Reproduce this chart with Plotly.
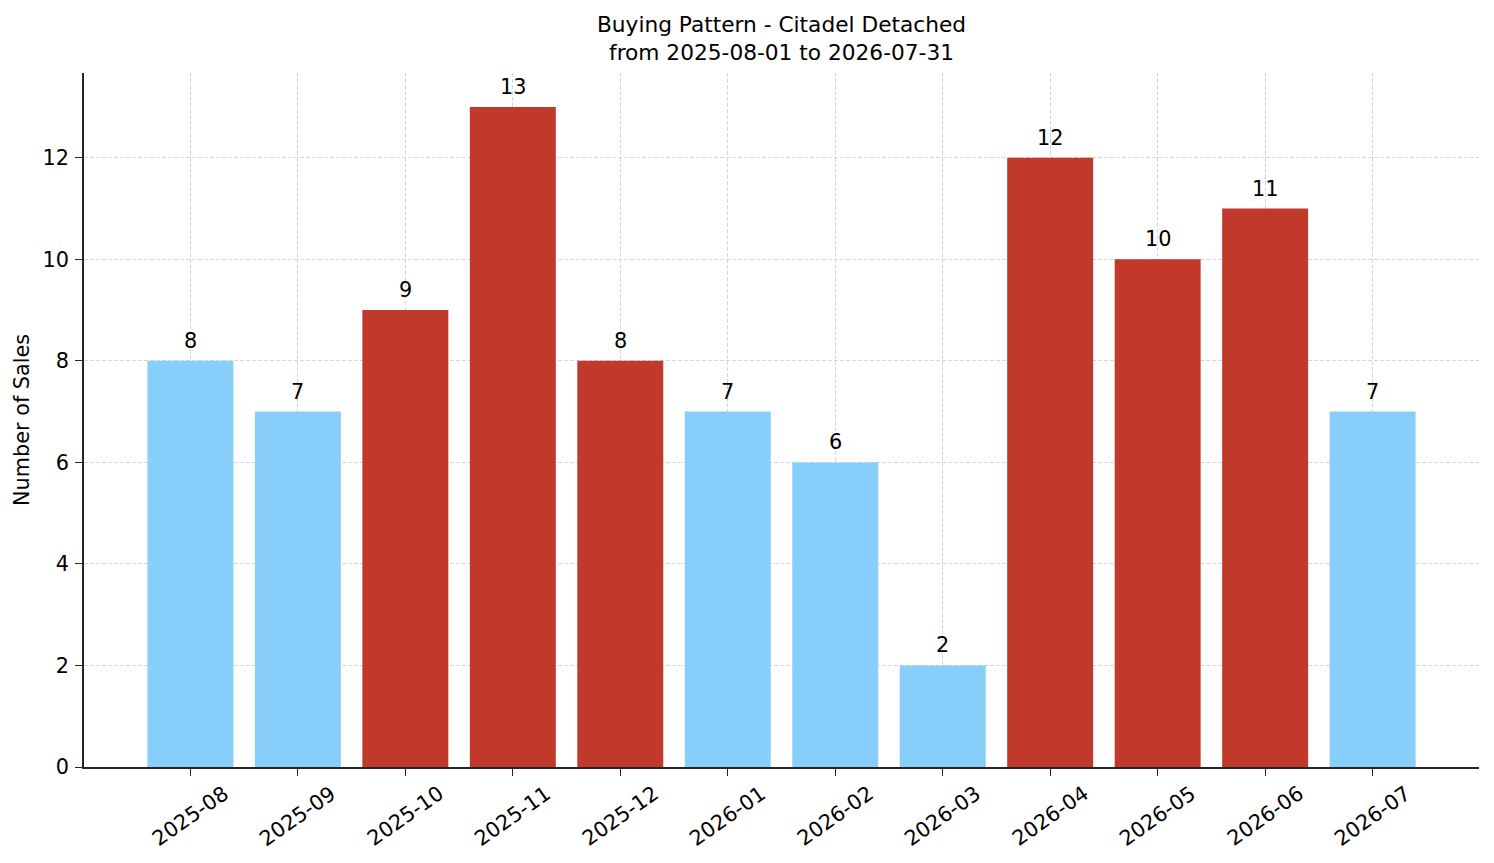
import plotly.graph_objects as go

# monthly sales counts
months = ["2025-08", "2025-09", "2025-10", "2025-11", "2025-12", "2026-01",
          "2026-02", "2026-03", "2026-04", "2026-05", "2026-06", "2026-07"]
sales = [8, 7, 9, 13, 8, 7, 6, 2, 12, 10, 11, 7]
hot = [False, False, True, True, True, False, False, False, True, True, True, False]

BLUE = "#87CEFA"
RED = "#C0392B"
FONT = "DejaVu Sans"
FS = 20.8

colors = [RED if h else BLUE for h in hot]
xs = list(range(len(months)))

fig = go.Figure()
fig.add_trace(go.Bar(
    x=xs, y=sales,
    marker=dict(color=colors, line=dict(width=0)),
    width=0.8, showlegend=False, hoverinfo="x+y",
))

# value labels above bars
for i, v in zip(xs, sales):
    fig.add_annotation(x=i, y=v, text=str(v), showarrow=False,
                       yanchor="bottom", yshift=6,
                       font=dict(family=FONT, size=FS, color="black"))

# rotated month labels, centred under each tick
for i, m in zip(xs, months):
    fig.add_annotation(x=i, y=0, yref="paper", text=m, showarrow=False,
                       textangle=-35, xanchor="center", yanchor="middle",
                       yshift=-49,
                       font=dict(family=FONT, size=FS, color="black"))

# y axis title
fig.add_annotation(x=0, xref="paper", y=0.5, yref="paper", text="Number of Sales",
                   showarrow=False, textangle=-90, xanchor="center", yanchor="middle",
                   xshift=-62, font=dict(family=FONT, size=FS, color="black"))

fig.update_layout(
    width=1486, height=855,
    margin=dict(l=76, r=15, t=65, b=96, autoexpand=False),
    paper_bgcolor="white", plot_bgcolor="white",
    font=dict(family=FONT, size=FS, color="black"),
    title=dict(text="Buying Pattern - Citadel Detached<br>from 2025-08-01 to 2026-07-31",
               x=(76 + 1471) / 2 / 1486, xanchor="center",
               y=1 - 24 / 855, yanchor="top",
               font=dict(family=FONT, size=21.7)),
)
fig.update_xaxes(
    range=[-0.99, 11.99], automargin=False,
    tickmode="array", tickvals=xs, showticklabels=False,
    ticks="outside", ticklen=7, tickwidth=1.2, tickcolor="#262626",
    showline=True, linecolor="#262626", linewidth=1.5,
    showgrid=True, gridcolor="#d6d6d6", griddash="4px,2px", gridwidth=0.8,
    zeroline=False,
)
fig.update_yaxes(
    range=[0, 13.67], automargin=False,
    tickmode="array", tickvals=[0, 2, 4, 6, 8, 10, 12],
    ticks="outside", ticklen=7, tickwidth=1.2, tickcolor="#262626",
    ticklabelstandoff=2,
    showline=True, linecolor="#262626", linewidth=1.5,
    showgrid=True, gridcolor="#d6d6d6", griddash="4px,2px", gridwidth=0.8,
    zeroline=False, tickfont=dict(size=FS),
)

fig.write_html("out.html")
